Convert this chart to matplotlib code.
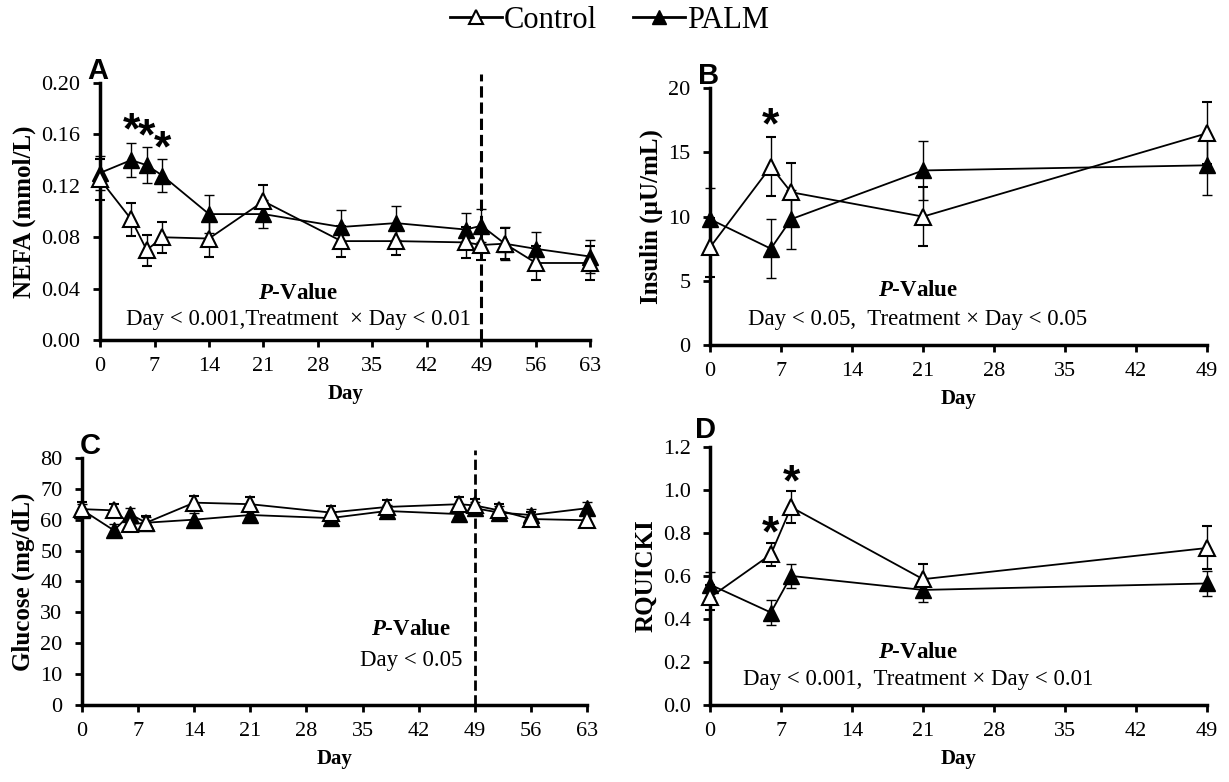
import matplotlib
matplotlib.use("Agg")
import matplotlib.pyplot as plt
from matplotlib.lines import Line2D
from matplotlib.ticker import FormatStrFormatter

plt.rcParams['font.family'] = ['Liberation Serif', 'DejaVu Serif']
plt.rcParams['mathtext.fontset'] = 'custom'
plt.rcParams['mathtext.rm'] = 'Liberation Serif'
plt.rcParams['mathtext.bfit'] = 'Liberation Serif:italic:bold'

# NEFA (A) and glucose (C) sampling days
days_long = [0, 4, 6, 8, 14, 21, 31, 38, 47, 49, 52, 56, 63]
# insulin (B) and RQUICKI (D) sampling days
days_short = [0, 6, 8, 21, 49]

nefa_ctrl = [0.125, 0.094, 0.070, 0.080, 0.079, 0.108, 0.077, 0.077, 0.076, 0.074, 0.075, 0.060, 0.060]
nefa_ctrl_se = [0.016, 0.013, 0.012, 0.012, 0.014, 0.013, 0.012, 0.011, 0.012, 0.012, 0.012, 0.013, 0.013]
nefa_palm = [0.130, 0.140, 0.136, 0.128, 0.098, 0.098, 0.088, 0.091, 0.086, 0.089, 0.075, 0.071, 0.065]
nefa_palm_se = [0.013, 0.013, 0.014, 0.013, 0.015, 0.011, 0.013, 0.013, 0.013, 0.013, 0.013, 0.013, 0.013]

ins_ctrl = [7.6, 13.9, 11.9, 10.0, 16.5]
ins_ctrl_se = [2.3, 2.3, 2.3, 2.3, 2.4]
ins_palm = [9.8, 7.5, 9.8, 13.6, 14.0]
ins_palm_se = [2.4, 2.3, 2.3, 2.3, 2.3]

glu_ctrl = [63.4, 63.0, 58.5, 59.0, 65.5, 65.0, 62.3, 64.1, 65.0, 64.6, 63.0, 60.2, 59.8]
glu_ctrl_se = [2.2, 2.2, 2.2, 2.2, 2.3, 2.2, 2.2, 2.2, 2.2, 2.2, 2.2, 2.2, 2.2]
glu_palm = [63.2, 56.5, 61.8, 59.0, 60.0, 61.5, 60.5, 62.8, 61.8, 63.7, 62.3, 61.5, 63.7]
glu_palm_se = [2.0, 2.0, 2.0, 2.0, 2.0, 2.0, 2.0, 2.0, 2.0, 2.0, 2.0, 2.0, 2.0]

rq_ctrl = [0.50, 0.70, 0.92, 0.585, 0.73]
rq_ctrl_se = [0.06, 0.055, 0.075, 0.07, 0.10]
rq_palm = [0.56, 0.43, 0.60, 0.535, 0.565]
rq_palm_se = [0.06, 0.06, 0.055, 0.055, 0.06]

nefa_star_days = [4, 6, 8]
nefa_star_y = [0.162, 0.157, 0.148]
ins_star_days = [6]
ins_star_y = [17.0]
rq_star_days = [6, 8]
rq_star_y = [0.79, 1.03]

fig = plt.figure(figsize=(12.29, 7.82), dpi=100)
axA = fig.add_axes([0.0814, 0.565, 0.399, 0.329])
axB = fig.add_axes([0.5777, 0.559, 0.4044, 0.328])
axC = fig.add_axes([0.0667, 0.0985, 0.411, 0.316])
axD = fig.add_axes([0.5777, 0.0985, 0.4044, 0.330])


def draw(ax, x, yc, ec, yp, ep):
    kw = dict(color='black', lw=1.3, ms=11, capsize=3.5, elinewidth=1.0,
              capthick=1.0, clip_on=False, zorder=3)
    ax.errorbar(x, yp, yerr=ep, marker='^', mfc='black', mec='black', **kw)
    ax.errorbar(x, yc, yerr=ec, marker='^', mfc='white', mec='black', mew=1.5, **kw)


def style(ax, xmax, ylim, ystep, yfmt, ylabel):
    ax.set_xlim(0, xmax)
    ax.set_ylim(*ylim)
    ax.set_xticks(range(0, xmax + 1, 7))
    n = int(round((ylim[1] - ylim[0]) / ystep))
    ax.set_yticks([ylim[0] + i * ystep for i in range(n + 1)])
    if yfmt:
        ax.yaxis.set_major_formatter(FormatStrFormatter(yfmt))
    for s in ['top', 'right']:
        ax.spines[s].set_visible(False)
    for s in ['left', 'bottom']:
        ax.spines[s].set_linewidth(2.5)
    ax.tick_params(axis='both', direction='out', length=5, width=2, labelsize=16)
    ax.tick_params(axis='y', pad=9)
    ax.tick_params(axis='x', pad=7)
    ax.set_xlabel('Day', fontsize=15, fontweight='bold', labelpad=6)
    ax.set_ylabel(ylabel, fontsize=18, fontweight='bold', labelpad=4)


def pvalue(ax, x, y1, y2, txt):
    ax.text(x, y1, r'$\mathbfit{P}$-Value', ha='center', va='center',
            fontsize=16.5, fontweight='bold')
    ax.text(x, y2, txt, ha='center', va='center', fontsize=16.5)


def stars(ax, days, ys):
    for d, v in zip(days, ys):
        ax.text(d, v, '*', ha='center', va='center', fontsize=32, fontweight='bold',
                family='Liberation Sans')


# A
draw(axA, days_long, nefa_ctrl, nefa_ctrl_se, nefa_palm, nefa_palm_se)
style(axA, 63, (0, 0.20), 0.04, '%.2f', 'NEFA (mmol/L)')
axA.plot([49, 49], [0, 0.207], ls='--', color='black', lw=2.2, clip_on=False)
stars(axA, nefa_star_days, nefa_star_y)
pvalue(axA, 25.5, 0.036, 0.016, 'Day < 0.001,Treatment  \u00d7 Day < 0.01')
axA.text(-0.3, 0.209, 'A', fontsize=21, fontweight='bold', family='Liberation Sans',
         ha='center', va='center')

# B
draw(axB, days_short, ins_ctrl, ins_ctrl_se, ins_palm, ins_palm_se)
style(axB, 49, (0, 20), 5, None, 'Insulin (\u00b5U/mL)')
stars(axB, ins_star_days, ins_star_y)
pvalue(axB, 20.5, 4.2, 2.0, 'Day < 0.05,  Treatment \u00d7 Day < 0.05')
axB.text(-0.1, 21.0, 'B', fontsize=21, fontweight='bold', family='Liberation Sans',
         ha='center', va='center')

# C
draw(axC, days_long, glu_ctrl, glu_ctrl_se, glu_palm, glu_palm_se)
style(axC, 63, (0, 80), 10, None, 'Glucose (mg/dL)')
axC.plot([49, 49], [0, 82.5], ls='--', color='black', lw=2.0, clip_on=False)
pvalue(axC, 41.0, 24.5, 14.5, 'Day < 0.05')
axC.text(1.0, 84, 'C', fontsize=21, fontweight='bold', family='Liberation Sans',
         ha='center', va='center')

# D
draw(axD, days_short, rq_ctrl, rq_ctrl_se, rq_palm, rq_palm_se)
style(axD, 49, (0, 1.2), 0.2, '%.1f', 'RQUICKI')
stars(axD, rq_star_days, rq_star_y)
pvalue(axD, 20.5, 0.245, 0.118, 'Day < 0.001,  Treatment \u00d7 Day < 0.01')
axD.text(-0.4, 1.28, 'D', fontsize=21, fontweight='bold', family='Liberation Sans',
         ha='center', va='center')

handles = [
    Line2D([], [], color='black', lw=2, marker='^', ms=10, mfc='white', mec='black', mew=1.5),
    Line2D([], [], color='black', lw=2, marker='^', ms=10, mfc='black', mec='black'),
]
fig.legend(handles, ['Control', 'PALM'], loc='center', bbox_to_anchor=(0.496, 0.974),
           ncol=2, frameon=False, fontsize=22, handlelength=1.7, handletextpad=0.05,
           columnspacing=1.2)

fig.savefig('out.png', dpi=100)
